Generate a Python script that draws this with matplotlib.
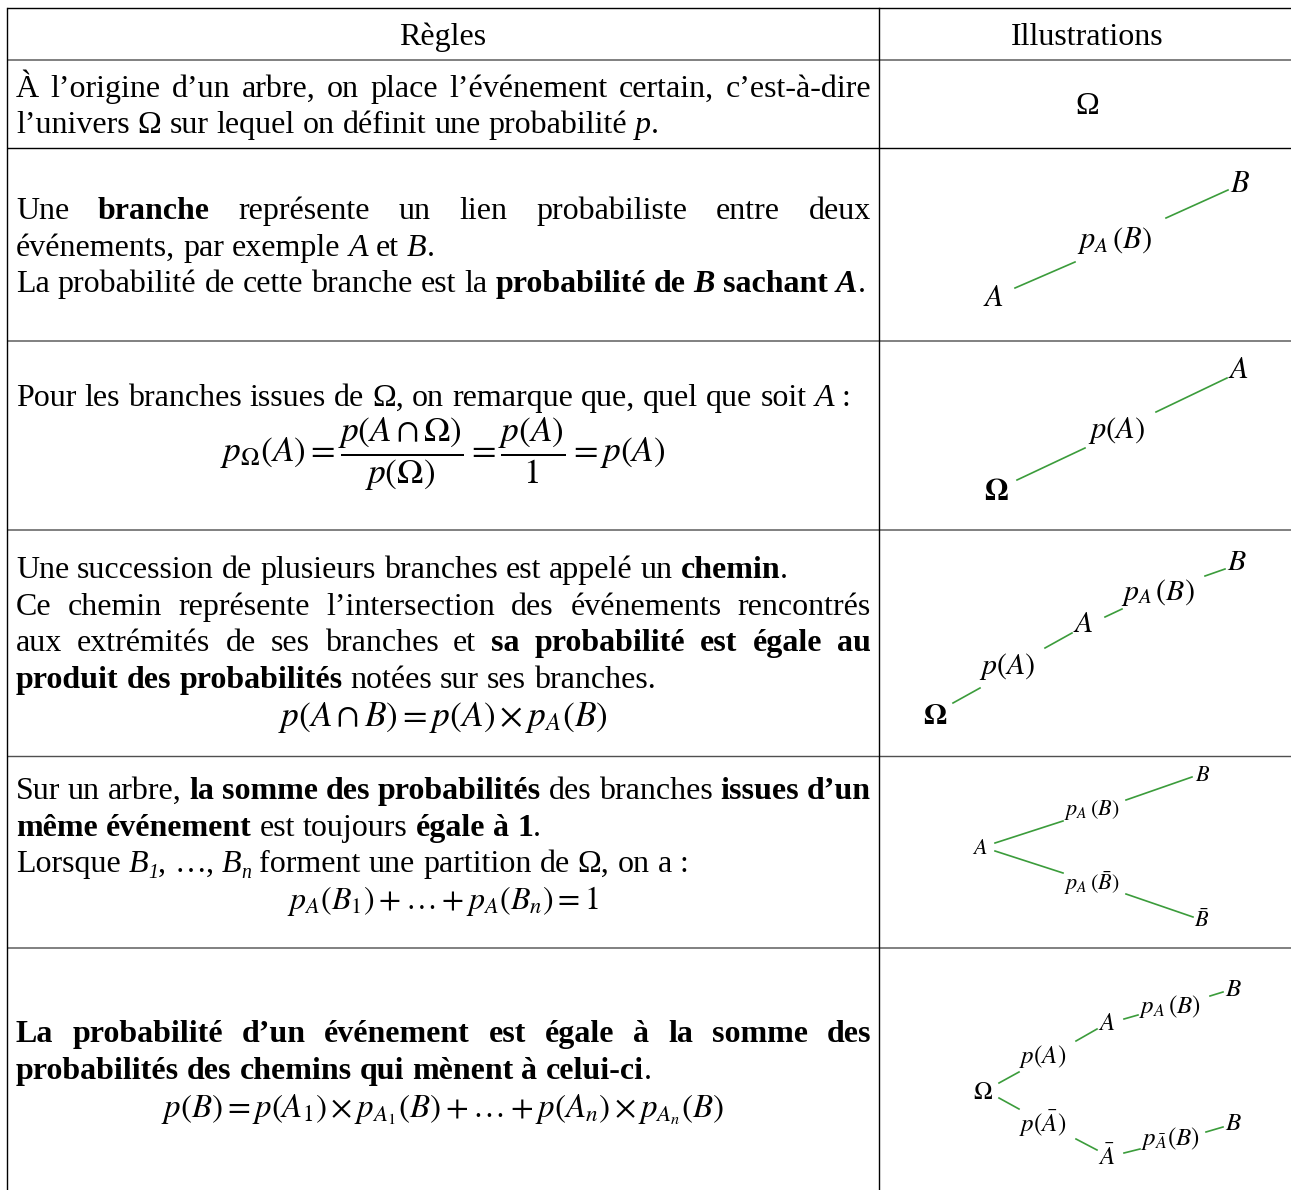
import matplotlib
matplotlib.use("Agg")
import matplotlib.pyplot as plt
from matplotlib.font_manager import FontProperties

plt.rcParams['mathtext.fontset'] = 'stix'

# ---- content -------------------------------------------------------------
header = ["Règles", "Illustrations"]

# every line is a list of runs (text, style)  n=normal b=bold i=italic bi=bold italic s=italic subscript
rules = [
    [[("À l’origine d’un arbre, on place l’événement certain, c’est-à-dire", "n")],
     [("l’univers Ω sur lequel on définit une probabilité ", "n"), ("p", "i"), (".", "n")]],
    [[("Une ", "n"), ("branche", "b"), (" représente un lien probabiliste entre deux", "n")],
     [("événements, par exemple ", "n"), ("A", "i"), (" et ", "n"), ("B", "i"), (".", "n")],
     [("La probabilité de cette branche est la ", "n"), ("probabilité de ", "b"), ("B", "bi"),
      (" sachant ", "b"), ("A", "bi"), (".", "n")]],
    [[("Pour les branches issues de Ω, on remarque que, quel que soit ", "n"), ("A", "i"), (" :", "n")]],
    [[("Une succession de plusieurs branches est appelé un ", "n"), ("chemin", "b"), (".", "n")],
     [("Ce chemin représente l’intersection des événements rencontrés", "n")],
     [("aux extrémités de ses branches et ", "n"), ("sa probabilité est égale au", "b")],
     [("produit des probabilités", "b"), (" notées sur ses branches.", "n")]],
    [[("Sur un arbre, ", "n"), ("la somme des probabilités", "b"), (" des branches ", "n"), ("issues d’un", "b")],
     [("même événement", "b"), (" est toujours ", "n"), ("égale à 1", "b"), (".", "n")],
     [("Lorsque ", "n"), ("B", "i"), ("1", "s"), (", …, ", "n"), ("B", "i"), ("n", "s"),
      (" forment une partition de Ω, on a :", "n")]],
    [[("La probabilité d’un événement est égale à la somme des", "b")],
     [("probabilités des chemins qui mènent à celui-ci", "b"), (".", "n")]],
]
justify = [[True, False], [True, False, False], [False], [False, True, True, False],
           [True, False, False], [True, False]]

formulas = [
    None, None,
    r"$p_{\Omega}(A)=\dfrac{p(A\cap\Omega)}{p(\Omega)}=\dfrac{p(A)}{1}=p(A)$",
    r"$p(A\cap B)=p(A)\times p_A(B)$",
    r"$p_A(B_1)+\ldots+p_A(B_n)=1$",
    r"$p(B)=p(A_1)\times p_{A_1}(B)+\ldots+p(A_n)\times p_{A_n}(B)$",
]

# tree illustrations: node and probability labels
tree_labels = [
    ["Ω"],
    [r"$A$", r"$p_A\,(B)$", r"$B$"],
    [r"$\mathbf{\Omega}$", r"$p(A)$", r"$A$"],
    [r"$\mathbf{\Omega}$", r"$p(A)$", r"$A$", r"$p_A\,(B)$", r"$B$"],
    [r"$A$", r"$p_A\,(B)$", r"$B$", r"$p_A\,(\bar{B})$", r"$\bar{B}$"],
    [r"$\Omega$", r"$p(A)$", r"$A$", r"$p_A\,(B)$", r"$B$",
     r"$p(\bar{A})$", r"$\bar{A}$", r"$p_{\bar{A}}(B)$", r"$B$"],
]

# ---- layout --------------------------------------------------------------
W, H = 1291, 1190
X0, XC, X1 = 7, 879, 1291
row_edges = [8, 60, 148, 341, 530, 756, 948]
edge_colors = ["#000000", "#808080", "#000000", "#808080", "#808080", "#505050", "#808080"]
BODY = 23
TXT_L, TXT_R = 16, 871
line_base = [[97, 133], [219, 256, 292], [406], [578, 615, 651, 688], [799, 836, 872], [1042, 1079]]
formula_base = [None, None, 462, 726, 909, 1117]
formula_size = [None, None, 25.5, 25.5, 23, 23.8]
GREEN = "#3b9c3b"

tree_pos = [
    [(1087, 106)],
    [(993, 297), (1115, 241), (1240, 184)],
    [(996, 491), (1117, 430), (1238, 369)],
    [(935, 715), (1007, 667), (1083, 624), (1158, 592), (1237, 562)],
    [(980, 848), (1092, 810), (1203, 775), (1092, 883), (1202, 920)],
    [(983, 1092), (1043, 1057), (1107, 1023), (1170, 1006), (1233, 989),
     (1043, 1124), (1107, 1157), (1170, 1139), (1233, 1123)],
]
tree_size = [23, 22, 22, 21.5, 16, 18]
tree_segs = [
    [],
    [((1015, 288), (1075, 262)), ((1166, 218), (1228, 190))],
    [((1017, 480), (1085, 448)), ((1156, 412), (1227, 378))],
    [((953, 703), (980, 688)), ((1045, 648), (1072, 633)),
     ((1105, 617), (1122, 609)), ((1205, 576), (1225, 569))],
    [((995, 843), (1063, 821)), ((1126, 800), (1192, 777)),
     ((995, 851), (1063, 873)), ((1126, 894), (1193, 917))],
    [((999, 1083), (1019, 1072)), ((1076, 1041), (1097, 1029)),
     ((1124, 1019), (1138, 1015)), ((1210, 996), (1223, 992)),
     ((999, 1098), (1019, 1109)), ((1076, 1139), (1097, 1150)),
     ((1124, 1153), (1140, 1149)), ((1206, 1132), (1223, 1127))],
]

fig = plt.figure(figsize=(W / 100, H / 100), dpi=100)
ax = fig.add_axes([0, 0, 1, 1])
ax.set_xlim(0, W)
ax.set_ylim(H, 0)
ax.axis("off")

# grid
for y, c in zip(row_edges, edge_colors):
    lw = 1.4 if c == "#808080" else 1.0
    ax.plot([X0, X1], [y, y], color=c, lw=lw, solid_capstyle="butt")
for x in (X0, XC):
    ax.plot([x, x], [row_edges[0], H], color="black", lw=1.0)

FAM = "Liberation Serif"
props = {
    "n": FontProperties(family=FAM, size=BODY),
    "b": FontProperties(family=FAM, size=BODY, weight="bold"),
    "i": FontProperties(family=FAM, size=BODY, style="italic"),
    "bi": FontProperties(family=FAM, size=BODY, style="italic", weight="bold"),
    "s": FontProperties(family=FAM, size=BODY * 0.62, style="italic"),
}
renderer = fig.canvas.get_renderer()


def width(s, st):
    return renderer.get_text_width_height_descent(s, props[st], ismath=False)[0]


space_w = width("a a", "n") - width("aa", "n")


def split_words(runs):
    words = [[]]
    for text, st in runs:
        for k, p in enumerate(text.split(" ")):
            if k > 0:
                words.append([])
            if p:
                words[-1].append((p, st))
    return [w for w in words if w]


def draw_line(runs, yb, just):
    words = split_words(runs)
    ww = [sum(width(p, st) for p, st in w) for w in words]
    gap = space_w
    if just and len(words) > 1:
        gap = (TXT_R - TXT_L - sum(ww)) / (len(words) - 1)
    x = TXT_L
    for w, wl in zip(words, ww):
        xx = x
        for p, st in w:
            dy = 6 if st == "s" else 0
            ax.text(xx, yb + dy, p, fontproperties=props[st], ha="left", va="baseline")
            xx += width(p, st)
        x += wl + gap


# header
ax.text((X0 + XC) / 2, 45, header[0], fontproperties=props["n"], ha="center", va="baseline")
ax.text(1087, 45, header[1], fontproperties=props["n"], ha="center", va="baseline")

for r, lines in enumerate(rules):
    for k, runs in enumerate(lines):
        draw_line(runs, line_base[r][k], justify[r][k])
    if formulas[r]:
        ax.text((X0 + XC) / 2, formula_base[r], formulas[r], fontsize=formula_size[r],
                ha="center", va="baseline")

# illustrations
for r in range(len(tree_labels)):
    for seg in tree_segs[r]:
        (xa, ya), (xb, yb) = seg
        ax.plot([xa, xb], [ya, yb], color=GREEN, lw=1.2)
    for lab, (x, y) in zip(tree_labels[r], tree_pos[r]):
        if lab.startswith("$"):
            ax.text(x, y, lab, fontsize=tree_size[r], ha="center", va="center")
        else:
            ax.text(x, y, lab, fontproperties=props["n"], ha="center", va="center")

fig.savefig("out.png", dpi=100)
